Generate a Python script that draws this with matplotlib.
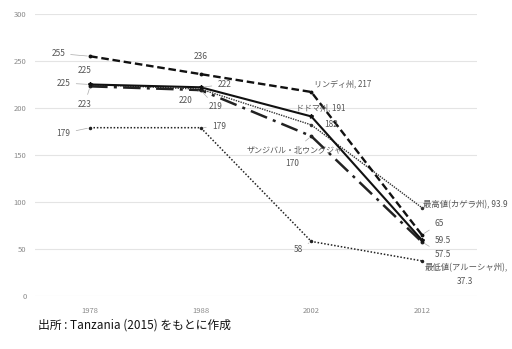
import matplotlib.pyplot as plt

plt.rcParams['font.family'] = ['Noto Sans CJK JP', 'DejaVu Sans']

years = ['1978', '1988', '2002', '2012']
lindi = [255, 236, 217, 65]
dodoma = [225, 222, 191, 59.5]
zanzibar = [223, 219, 170, 57.5]
kagera = [225, 220, 182, 93.9]
arusha = [179, 179, 58, 37.3]

x = list(range(len(years)))

fig = plt.figure(figsize=(5.12, 3.49), dpi=100)
ax = fig.add_axes([0.068, 0.152, 0.864, 0.808])

ax.plot(x, arusha, color='#222222', lw=1.1, ls=(0, (1, 1.2)), marker='o', ms=1.5)
ax.plot(x, kagera, color='#333333', lw=1.0, ls=(0, (1, 0.8)), marker='o', ms=1.5)
ax.plot(x, zanzibar, color='#222222', lw=1.8, ls=(0, (7, 2.5, 1.2, 2.5)), marker='o', ms=1.8)
ax.plot(x, dodoma, color='#111111', lw=1.5, marker='*', ms=3)
ax.plot(x, lindi, color='#111111', lw=1.7, ls=(0, (3.2, 1.6)), marker='o', ms=1.8)

ax.set_xlim(-0.5, 3.5)
ax.set_ylim(0, 300)
ax.set_yticks([0, 50, 100, 150, 200, 250, 300])
ax.set_xticks(x)
ax.set_xticklabels(years)
ax.grid(axis='y', color='#e4e4e4', lw=0.8)
ax.set_axisbelow(True)
for s in ax.spines.values():
    s.set_visible(False)
ax.tick_params(length=0, labelsize=5.5, colors='#8a8a8a', pad=8)
ax.tick_params(axis='y', pad=6)

lc = '#555555'
arrow = dict(arrowstyle='-', color='#aaaaaa', lw=0.5)


def lab(text, xi, yv, dx, dy, ha='center', line=True, size=6):
    ax.annotate(text, (xi, yv), xytext=(dx, dy), textcoords='offset points',
                ha=ha, va='center', fontsize=size, color=lc,
                arrowprops=arrow if line else None)


# 1978
lab('255', 0, 255, -18, 2, ha='right')
lab('225', 0, 225, -4, 10, line=False)
lab('225', 0, 225, -14, 1, ha='right')
lab('223', 0, 223, -4, -13)
lab('179', 0, 179, -14, -4, ha='right')
# 1988
lab('236', 1, 236, 0, 13, line=False)
lab('222', 1, 222, 12, 2, ha='left')
lab('220', 1, 220, -6, -8, ha='right')
lab('219', 1, 219, 6, -12, ha='left')
lab('179', 1, 179, 8, 1, ha='left')
# 2002
lab('リンディ州, 217', 2, 217, 2, 6, ha='left', line=False, size=5.8)
lab('ドドマ州, 191', 2, 191, -11, 6.5, ha='left', line=False, size=5.8)
lab('182', 2, 182, 9, 0, ha='left', line=False)
lab('ザンジバル・北ウングジャ', 2, 170, -12, -10, ha='center', size=5.8)
lab('170', 2, 170, -14, -20, ha='center', line=False)
lab('58', 2, 58, -6, -6, ha='right')
# 2012
lab('最高値(カゲラ州), 93.9', 3, 93.9, 1, 2, ha='left', line=False)
lab('65', 3, 65, 9, 8, ha='left')
lab('59.5', 3, 59.5, 9, 0, ha='left', line=False)
lab('57.5', 3, 57.5, 9, -9, ha='left')
lab('最低値(アルーシャ州),', 3, 37.3, 2, -5, ha='left', line=False)
lab('37.3', 3, 37.3, 31, -15, ha='center', line=False)

fig.text(0.074, 0.068, '出所 : Tanzania (2015) をもとに作成', fontsize=8.5,
         color='#111111', va='center')

fig.savefig('out.png', dpi=100)
